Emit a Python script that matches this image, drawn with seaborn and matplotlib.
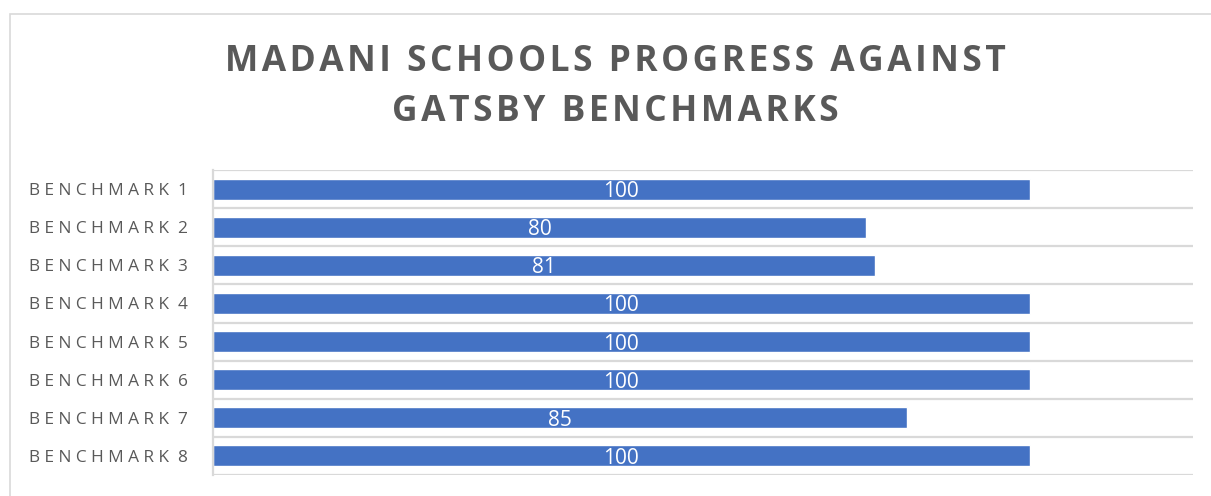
import numpy as np
import matplotlib
matplotlib.use("Agg")
import matplotlib.pyplot as plt
import seaborn as sns
from matplotlib.patches import Rectangle

# data
benchmarks = ["Benchmark 1", "Benchmark 2", "Benchmark 3", "Benchmark 4",
              "Benchmark 5", "Benchmark 6", "Benchmark 7", "Benchmark 8"]
progress = [100, 80, 81, 100, 100, 100, 85, 100]

title_lines = ["MADANI SCHOOLS PROGRESS AGAINST", "GATSBY BENCHMARKS"]

sns.set_theme(style="white")
plt.rcParams["font.family"] = ["Open Sans", "DejaVu Sans"]

grey_text = "#595959"
grid_col = "#d9d9d9"
bar_col = "#4472C4"


def spaced(label):
    # wide letter spacing like the original category labels
    word, num = label.upper().split(" ")
    return " ".join(word) + "  " + num


fig = plt.figure(figsize=(12.11, 4.96), dpi=100)
ax = fig.add_axes([213 / 1211, 1 - 475 / 496, (1193 - 213) / 1211, (475 - 170) / 496])

sns.barplot(x=progress, y=benchmarks, orient="h", color=bar_col,
            width=0.55, saturation=1, ax=ax)

ax.set_xlim(0, 120)
ax.set_ylim(7.5, -0.5)
ax.set_xticks([])
ax.set_yticks(range(len(benchmarks)))
ax.set_yticklabels([spaced(b) for b in benchmarks], color=grey_text, fontsize=12.4)
ax.tick_params(axis="y", length=0, pad=18)
ax.set_xlabel("")
ax.set_ylabel("")

# category boundary lines
ax.set_yticks(np.arange(-0.5, len(benchmarks), 1), minor=True)
ax.grid(True, which="minor", axis="y", color=grid_col, linewidth=1.6)
ax.tick_params(axis="y", which="minor", length=0)

for side in ["top", "right", "bottom"]:
    ax.spines[side].set_visible(False)
ax.spines["left"].set_color(grid_col)
ax.spines["left"].set_linewidth(1.6)

for cont in ax.containers:
    lbls = ax.bar_label(cont, label_type="center", color="white", fontsize=15)
    for t in lbls:
        t.set_va("center_baseline")

# title, two lines with a little extra letter spacing
for line, ypx in zip(title_lines, [62, 112]):
    fig.text(615 / 1211, 1 - ypx / 496, "\u200a".join(line), ha="center", va="center",
             fontsize=25.5, fontweight="bold", color=grey_text)

# outer chart frame
fig.patches.append(Rectangle((10 / 1211, -0.1), 1.2, 1 - 14 / 496 + 0.1,
                             transform=fig.transFigure, fill=False,
                             edgecolor=grid_col, linewidth=1.2))

plt.savefig("out.png", dpi=100)
